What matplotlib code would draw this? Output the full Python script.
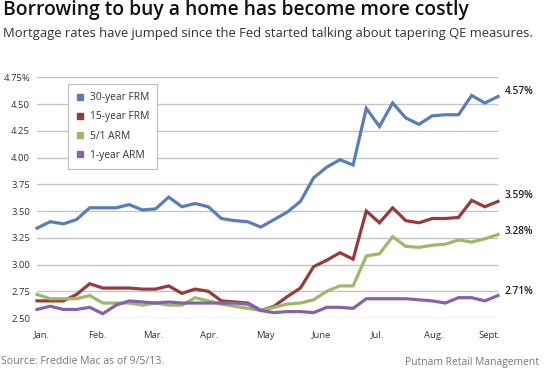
import matplotlib

matplotlib.use("Agg")

import matplotlib.pyplot as plt
from matplotlib.lines import Line2D
import numpy as np


OUTPUT_FILE = "out.png"

# weekly Freddie Mac survey, Jan 3 - Sep 5, 2013
FRM_30 = [
    3.34, 3.40, 3.38, 3.42, 3.53, 3.53, 3.53, 3.56, 3.51, 3.52,
    3.63, 3.54, 3.57, 3.54, 3.43, 3.41, 3.40, 3.35, 3.42, 3.49,
    3.59, 3.81, 3.91, 3.98, 3.93, 4.46, 4.29, 4.51, 4.37, 4.31,
    4.39, 4.40, 4.40, 4.58, 4.51, 4.57,
]

FRM_15 = [
    2.66, 2.66, 2.66, 2.72, 2.82, 2.78, 2.78, 2.78, 2.77, 2.77,
    2.80, 2.73, 2.77, 2.75, 2.66, 2.65, 2.64, 2.57, 2.61, 2.70,
    2.78, 2.98, 3.04, 3.11, 3.05, 3.50, 3.39, 3.53, 3.41, 3.39,
    3.43, 3.43, 3.44, 3.60, 3.54, 3.59,
]

ARM_5_1 = [
    2.72, 2.68, 2.68, 2.68, 2.71, 2.64, 2.64, 2.64, 2.62, 2.64,
    2.62, 2.62, 2.69, 2.66, 2.63, 2.61, 2.59, 2.57, 2.60, 2.63,
    2.64, 2.67, 2.75, 2.80, 2.80, 3.08, 3.10, 3.26, 3.17, 3.16,
    3.18, 3.19, 3.23, 3.21, 3.24, 3.28,
]

ARM_1 = [
    2.58, 2.61, 2.58, 2.58, 2.60, 2.54, 2.62, 2.66, 2.65, 2.64,
    2.65, 2.64, 2.64, 2.64, 2.64, 2.64, 2.63, 2.57, 2.55, 2.56,
    2.56, 2.55, 2.60, 2.60, 2.59, 2.68, 2.68, 2.68, 2.68, 2.67,
    2.66, 2.64, 2.69, 2.69, 2.66, 2.71,
]

SERIES_NAMES = [
    "30-year FRM",
    "15-year FRM",
    "5/1 ARM",
    "1-year ARM",
]

END_LABELS = ["4.57%", "3.59%", "3.28%", "2.71%"]

MONTH_LABELS = [
    "Jan.", "Feb.", "Mar.", "Apr.", "May",
    "June", "Jul.", "Aug.", "Sept.",
]

Y_TICKS = [2.50, 2.75, 3.00, 3.25, 3.50, 3.75, 4.00, 4.25, 4.50, 4.75]

COLORS = ["#5a7dba", "#983a3a", "#9cb96a", "#8563ab"]

FONT = "Open Sans"


def main() -> None:
    plt.rcParams["font.family"] = FONT

    figure = plt.figure(figsize=(5.45, 3.73), dpi=100)

    width_px, height_px = 545, 373
    left, right = 37, 498
    top, bottom = 77.3, 318

    axes = figure.add_axes([
        left / width_px,
        (height_px - bottom) / height_px,
        (right - left) / width_px,
        (bottom - top) / height_px,
    ])

    all_series = [FRM_30, FRM_15, ARM_5_1, ARM_1]
    weeks = np.arange(len(FRM_30))

    for values, color in zip(all_series, COLORS):
        axes.plot(
            weeks,
            values,
            color=color,
            linewidth=2.3,
            solid_joinstyle="miter",
            clip_on=False,
            zorder=3,
        )

    label_offsets = [4, 4, 2, 3]
    for values, label, color, offset in zip(
        all_series, END_LABELS, COLORS, label_offsets
    ):
        axes.annotate(
            label,
            xy=(weeks[-1], values[-1]),
            xytext=(5, offset),
            textcoords="offset points",
            ha="left",
            va="center",
            fontsize=7.3,
            fontweight="semibold",
            color="#222222",
        )

    axes.set_xlim(0, len(FRM_30) - 1)
    axes.set_ylim(Y_TICKS[0], Y_TICKS[-1])

    axes.set_yticks(Y_TICKS)
    y_labels = [f"{tick:.2f}" for tick in Y_TICKS]
    y_labels[-1] += "%"
    axes.set_yticklabels(y_labels)

    month_positions = 0.35 + 4.25 * np.arange(len(MONTH_LABELS))
    axes.set_xticks(month_positions)
    axes.set_xticklabels(MONTH_LABELS)

    axes.tick_params(
        axis="y",
        length=0,
        pad=5,
        labelsize=6.8,
        labelcolor="#333333",
    )
    axes.tick_params(
        axis="x",
        length=0,
        pad=9,
        labelsize=6.8,
        labelcolor="#333333",
    )

    axes.grid(axis="y", color="#c4c4c4", linewidth=1.0)
    axes.set_axisbelow(True)

    for spine in axes.spines.values():
        spine.set_visible(False)

    handles = [
        Line2D(
            [], [],
            marker="s",
            linestyle="none",
            markersize=4.5,
            color=color,
        )
        for color in COLORS
    ]

    legend = axes.legend(
        handles,
        SERIES_NAMES,
        loc="upper left",
        bbox_to_anchor=(68 / width_px, 1 - 84 / height_px),
        bbox_transform=figure.transFigure,
        frameon=True,
        fancybox=False,
        edgecolor="#bdbdbd",
        framealpha=1,
        fontsize=7.4,
        handlelength=0.8,
        handletextpad=0.5,
        labelspacing=0.8,
        borderpad=0.8,
        borderaxespad=0,
    )
    legend.get_frame().set_linewidth(0.8)
    for text in legend.get_texts():
        text.set_color("#333333")

    figure.text(
        3 / width_px,
        1 - 10.5 / height_px,
        "Borrowing to buy a home has become more costly",
        ha="left",
        va="center",
        fontsize=13.9,
        fontweight="semibold",
        color="#111111",
    )

    figure.text(
        3 / width_px,
        1 - 34 / height_px,
        "Mortgage rates have jumped since the Fed started talking "
        "about tapering QE measures.",
        ha="left",
        va="center",
        fontsize=9.4,
        color="#333333",
    )

    figure.text(
        1 / width_px,
        1 - 362 / height_px,
        "Source: Freddie Mac as of 9/5/13.",
        ha="left",
        va="center",
        fontsize=7.6,
        color="#777777",
    )

    figure.text(
        539 / width_px,
        1 - 362 / height_px,
        "Putnam Retail Management",
        ha="right",
        va="center",
        fontsize=7.4,
        color="#777777",
    )

    figure.savefig(OUTPUT_FILE, dpi=100)
    plt.close(figure)


if __name__ == "__main__":
    main()
